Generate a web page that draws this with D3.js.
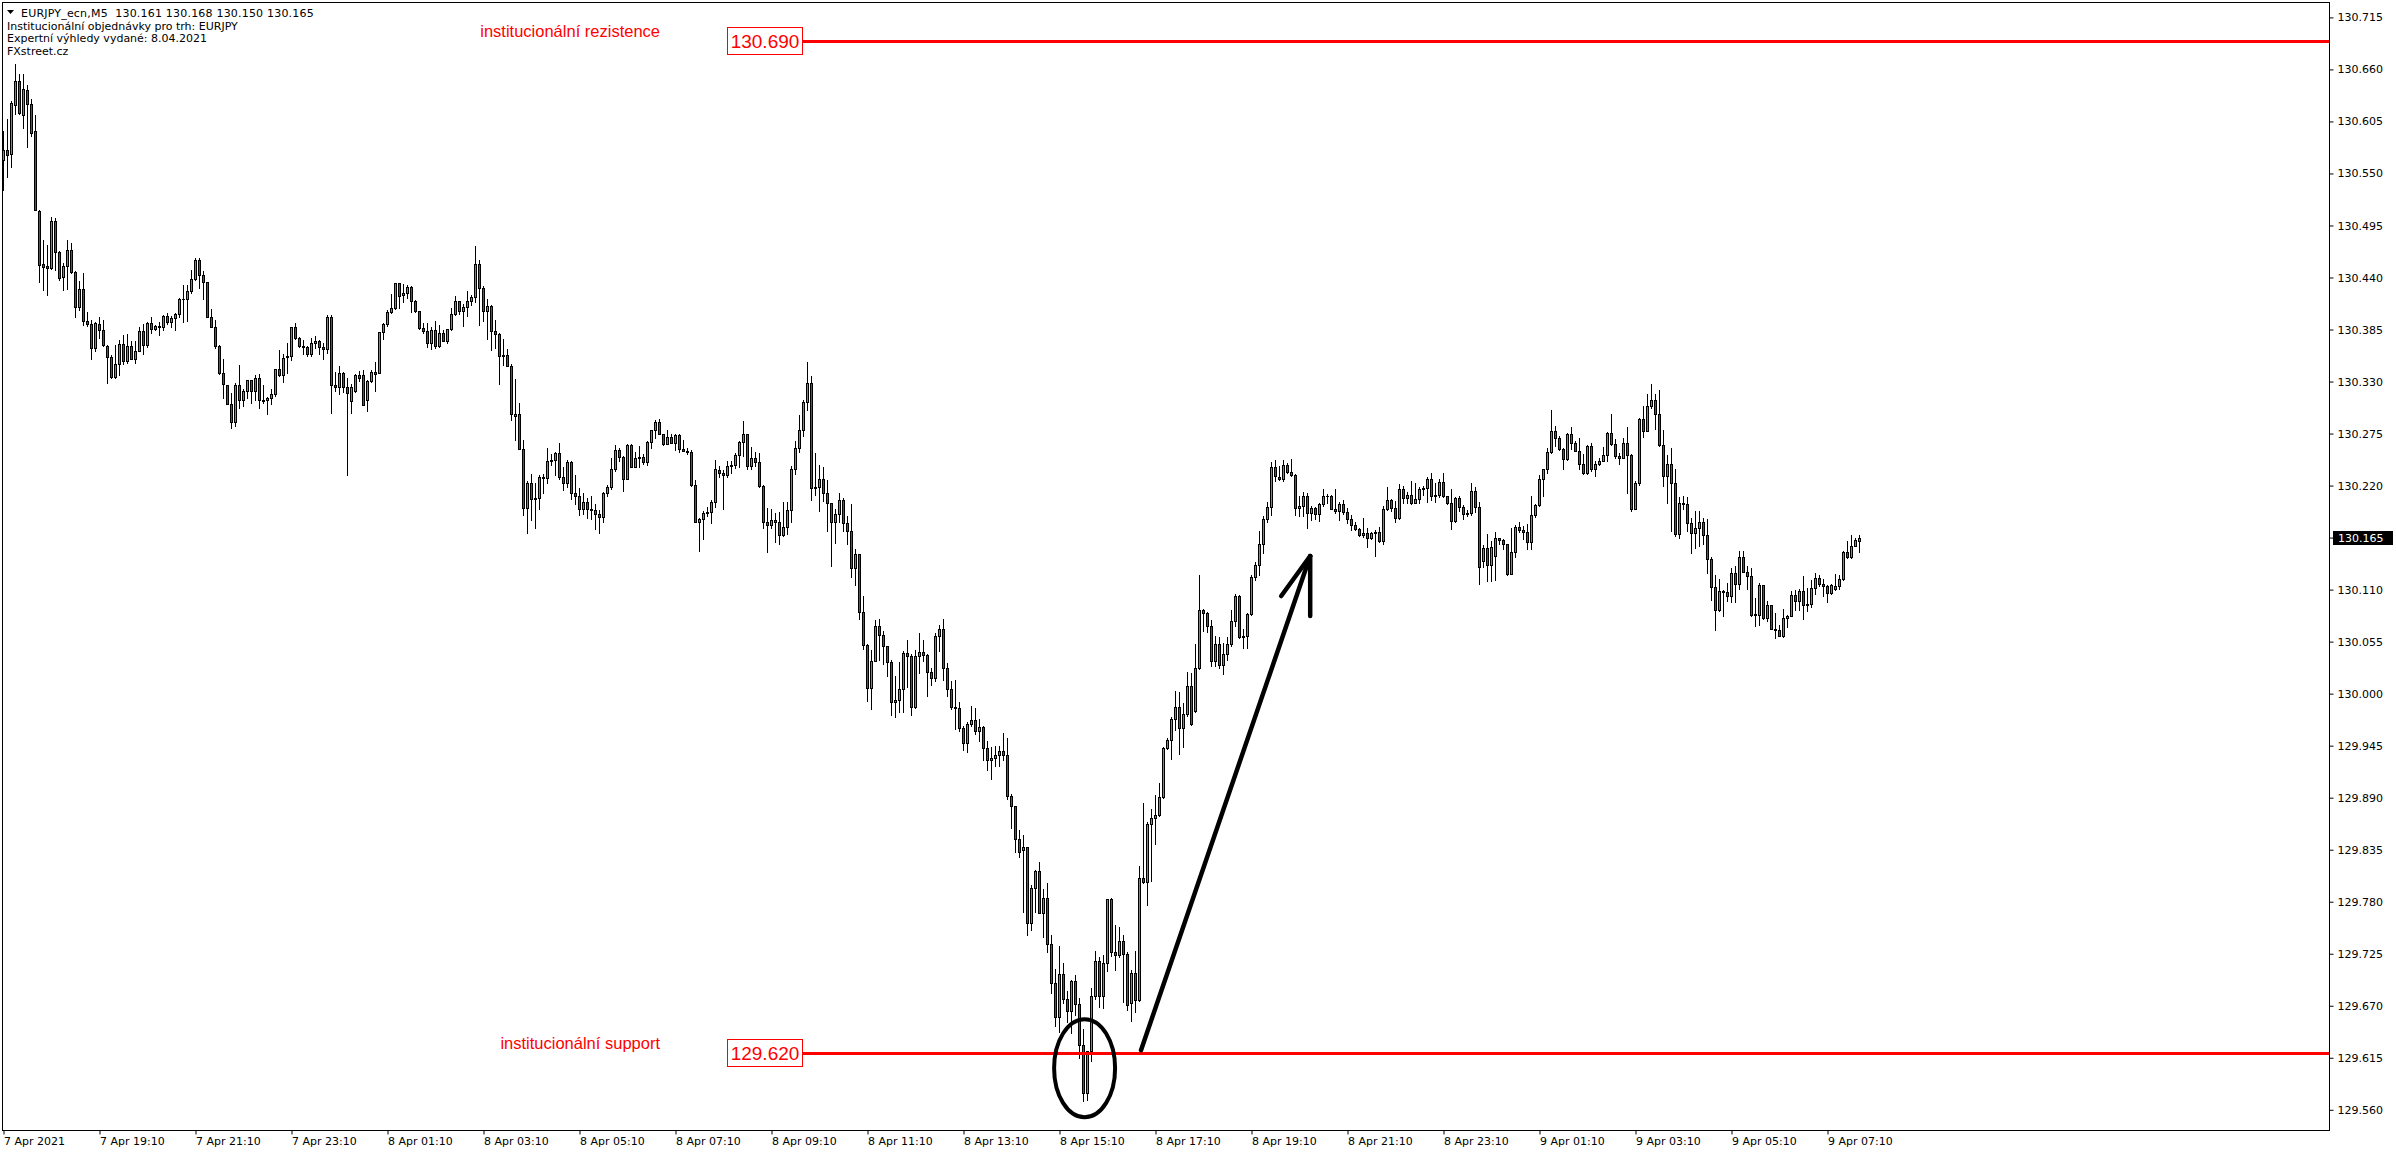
<!DOCTYPE html>
<html><head><meta charset="utf-8">
<script src="https://cdn.jsdelivr.net/npm/d3@7"></script>
<style>html,body{margin:0;padding:0;background:#fff;overflow:hidden}svg{display:block}</style>
</head><body>
<script>
// ---- DATA (EURJPY M5, 7 Apr 17:10 -> 9 Apr 07:45) ----
const opens = [
130.564,130.575,130.571,130.622,130.648,130.612,130.638,130.623,130.595,130.510,
130.454,130.452,130.450,130.500,130.467,130.440,130.452,130.469,130.446,130.409,
130.428,130.394,130.391,130.365,130.391,130.384,130.368,130.356,130.335,130.349,
130.370,130.352,130.368,130.354,130.362,130.383,130.369,130.392,130.386,130.389,
130.388,130.399,130.393,130.397,130.401,130.417,130.417,130.426,130.438,130.459,
130.443,130.435,130.398,130.388,130.368,130.339,130.326,130.306,130.287,130.326,
130.310,130.320,130.332,130.320,130.334,130.310,130.311,130.313,130.317,130.343,
130.337,130.356,130.357,130.388,130.376,130.368,130.367,130.359,130.371,130.373,
130.366,130.364,130.398,130.326,130.324,130.339,130.324,130.309,130.320,130.337,
130.337,130.310,130.331,130.340,130.339,130.382,130.391,130.403,130.408,130.434,
130.421,130.424,130.430,130.415,130.405,130.387,130.383,130.371,130.384,130.368,
130.381,130.373,130.386,130.401,130.415,130.405,130.409,130.415,130.419,130.454,
130.429,130.405,130.410,130.383,130.380,130.357,130.358,130.346,130.294,130.296,
130.259,130.196,130.223,130.206,130.207,130.229,130.228,130.246,130.247,130.254,
130.229,130.223,130.245,130.212,130.209,130.195,130.203,130.195,130.194,130.190,
130.187,130.212,130.219,130.237,130.258,130.250,130.227,130.263,130.240,130.249,
130.250,130.245,130.266,130.279,130.287,130.275,130.264,130.271,130.265,130.273,
130.259,130.257,130.256,130.221,130.181,130.185,130.191,130.192,130.203,130.236,
130.233,130.231,130.241,130.242,130.252,130.266,130.274,130.241,130.249,130.245,
130.220,130.181,130.178,130.184,130.182,130.168,130.176,130.194,130.237,130.260,
130.279,130.308,130.328,130.217,130.218,130.227,130.212,130.202,130.181,130.190,
130.205,130.180,130.172,130.133,130.148,130.086,130.051,130.006,130.035,130.071,
130.062,130.050,130.033,129.991,129.993,130.005,130.043,130.040,129.986,130.040,
130.044,130.041,130.023,130.017,130.061,130.068,130.027,130.005,129.986,129.985,
129.964,129.948,129.968,129.972,129.961,129.965,129.943,129.930,129.932,129.935,
129.939,129.935,129.892,129.881,129.846,129.835,129.838,129.757,129.794,129.812,
129.768,129.784,129.735,129.694,129.658,129.704,129.677,129.664,129.696,129.672,
129.628,129.578,129.622,129.680,129.717,129.680,129.715,129.783,129.727,129.724,
129.738,129.725,129.673,129.705,129.676,129.805,129.801,129.862,129.868,129.872,
129.891,129.943,129.951,129.973,129.986,129.964,129.979,130.008,129.982,130.027,
130.088,130.085,130.072,130.034,130.053,130.030,130.042,130.052,130.077,130.103,
130.060,130.061,130.084,130.123,130.136,130.158,130.185,130.197,130.240,130.229,
130.227,130.242,130.234,130.231,130.196,130.198,130.209,130.191,130.196,130.190,
130.200,130.209,130.209,130.195,130.193,130.201,130.192,130.185,130.178,130.174,
130.168,130.170,130.165,130.170,130.171,130.161,130.195,130.205,130.196,130.186,
130.216,130.207,130.210,130.202,130.206,130.216,130.217,130.227,130.209,130.210,
130.224,130.209,130.202,130.183,130.207,130.197,130.190,130.191,130.214,130.197,
130.140,130.154,130.136,130.146,130.165,130.162,130.158,130.127,130.150,130.176,
130.173,130.171,130.160,130.189,130.199,130.227,130.237,130.256,130.278,130.270,
130.259,130.248,130.274,130.265,130.257,130.243,130.233,130.262,130.237,130.243,
130.246,130.252,130.276,130.264,130.251,130.249,130.265,130.252,130.195,130.223,
130.290,130.278,130.304,130.311,130.296,130.263,130.230,130.243,130.223,130.169,
130.202,130.201,130.180,130.170,130.175,130.181,130.168,130.142,130.113,130.088,
130.109,130.108,130.103,130.128,130.116,130.144,130.129,130.124,130.084,130.083,
130.115,130.080,130.094,130.068,130.067,130.061,130.080,130.082,130.104,130.098,
130.109,130.094,130.095,130.112,130.122,130.116,130.114,130.106,130.111,130.114,
130.121,130.150,130.144,130.156,130.161];
const highs = [
130.595,130.608,130.627,130.666,130.655,130.655,130.644,130.629,130.612,130.511,
130.480,130.474,130.504,130.503,130.468,130.455,130.480,130.476,130.447,130.436,
130.445,130.403,130.395,130.393,130.398,130.395,130.369,130.358,130.369,130.374,
130.379,130.380,130.373,130.373,130.388,130.391,130.393,130.398,130.390,130.393,
130.400,130.402,130.399,130.402,130.418,130.432,130.432,130.448,130.461,130.461,
130.447,130.435,130.407,130.395,130.369,130.354,130.326,130.318,130.328,130.347,
130.322,130.332,130.332,130.337,130.338,130.326,130.314,130.322,130.343,130.363,
130.359,130.371,130.388,130.392,130.377,130.374,130.368,130.376,130.378,130.374,
130.371,130.400,130.400,130.340,130.346,130.340,130.334,130.327,130.338,130.341,
130.342,130.332,130.342,130.351,130.382,130.392,130.406,130.423,130.434,130.434,
130.433,130.432,130.431,130.416,130.405,130.392,130.392,130.388,130.394,130.390,
130.384,130.386,130.408,130.420,130.415,130.412,130.426,130.422,130.473,130.459,
130.431,130.417,130.411,130.395,130.381,130.375,130.364,130.349,130.333,130.307,
130.268,130.225,130.232,130.223,130.231,130.232,130.260,130.253,130.256,130.265,
130.240,130.247,130.246,130.231,130.217,130.212,130.207,130.209,130.200,130.194,
130.213,130.221,130.249,130.263,130.260,130.251,130.264,130.264,130.256,130.262,
130.253,130.267,130.279,130.289,130.290,130.275,130.279,130.274,130.274,130.275,
130.268,130.260,130.258,130.226,130.186,130.193,130.197,130.205,130.247,130.241,
130.236,130.246,130.246,130.254,130.267,130.288,130.275,130.261,130.256,130.254,
130.221,130.196,130.195,130.191,130.192,130.203,130.203,130.241,130.267,130.295,
130.311,130.351,130.336,130.254,130.242,130.240,130.226,130.202,130.195,130.212,
130.207,130.188,130.200,130.153,130.148,130.103,130.052,130.046,130.078,130.079,
130.066,130.050,130.036,130.019,130.033,130.045,130.057,130.042,130.046,130.064,
130.057,130.042,130.027,130.064,130.073,130.079,130.032,130.013,130.014,129.991,
129.966,129.970,129.987,129.985,129.973,129.966,129.950,129.944,129.945,129.945,
129.958,129.953,129.894,129.881,129.856,129.851,129.838,129.798,129.814,129.822,
129.793,129.800,129.745,129.709,129.733,129.715,129.686,129.697,129.702,129.678,
129.645,129.622,129.689,129.728,129.722,129.724,129.783,129.784,129.755,129.753,
129.745,129.727,129.708,129.728,129.818,129.884,129.864,129.878,129.893,129.905,
129.944,129.953,129.975,130.003,130.002,129.990,130.023,130.022,130.053,130.125,
130.090,130.086,130.078,130.061,130.060,130.054,130.060,130.088,130.105,130.104,
130.068,130.085,130.125,130.139,130.172,130.188,130.203,130.245,130.247,130.241,
130.247,130.244,130.248,130.232,130.209,130.213,130.212,130.198,130.197,130.202,
130.216,130.211,130.210,130.216,130.203,130.205,130.196,130.189,130.182,130.175,
130.186,130.175,130.171,130.173,130.176,130.198,130.219,130.206,130.204,130.222,
130.220,130.213,130.225,130.223,130.219,130.220,130.229,130.233,130.223,130.227,
130.233,130.209,130.216,130.208,130.209,130.199,130.194,130.223,130.218,130.203,
130.157,130.169,130.161,130.171,130.165,130.163,130.158,130.175,130.178,130.182,
130.177,130.179,130.209,130.201,130.231,130.238,130.260,130.300,130.283,130.272,
130.260,130.276,130.282,130.267,130.270,130.253,130.263,130.265,130.246,130.249,
130.261,130.277,130.296,130.269,130.254,130.270,130.282,130.253,130.225,130.291,
130.304,130.317,130.327,130.317,130.321,130.279,130.252,130.260,130.237,130.208,
130.209,130.208,130.186,130.193,130.193,130.186,130.185,130.145,130.125,130.121,
130.110,130.117,130.133,130.135,130.151,130.151,130.135,130.133,130.101,130.117,
130.115,130.098,130.094,130.085,130.073,130.090,130.083,130.109,130.110,130.111,
130.124,130.112,130.120,130.128,130.125,130.121,130.115,130.116,130.127,130.125,
130.151,130.161,130.168,130.165,130.168];
const lows = [
130.532,130.546,130.557,130.613,130.613,130.598,130.578,130.590,130.511,130.435,
130.427,130.422,130.449,130.448,130.437,130.427,130.428,130.445,130.398,130.406,
130.390,130.389,130.354,130.362,130.376,130.368,130.328,130.334,130.334,130.337,
130.349,130.350,130.354,130.350,130.362,130.359,130.366,130.381,130.385,130.379,
130.385,130.391,130.388,130.385,130.398,130.393,130.394,130.424,130.437,130.429,
130.417,130.398,130.388,130.365,130.338,130.313,130.306,130.281,130.283,130.302,
130.304,130.313,130.307,130.311,130.302,130.307,130.296,130.306,130.315,130.336,
130.329,130.339,130.353,130.375,130.366,130.359,130.357,130.357,130.365,130.359,
130.354,130.360,130.297,130.320,130.317,130.319,130.231,130.297,130.319,130.331,
130.305,130.299,130.329,130.320,130.339,130.375,130.389,130.402,130.407,130.408,
130.414,130.418,130.404,130.404,130.386,130.381,130.367,130.364,130.365,130.367,
130.373,130.371,130.385,130.400,130.401,130.389,130.399,130.411,130.414,130.390,
130.394,130.375,130.363,130.365,130.327,130.348,130.346,130.289,130.268,130.259,
130.189,130.170,130.184,130.175,130.195,130.212,130.223,130.242,130.231,130.227,
130.215,130.219,130.206,130.200,130.189,130.190,130.186,130.185,130.174,130.170,
130.182,130.209,130.216,130.235,130.246,130.214,130.227,130.240,130.240,130.240,
130.243,130.242,130.260,130.270,130.274,130.263,130.264,130.265,130.258,130.256,
130.257,130.253,130.220,130.181,130.151,130.164,130.188,130.180,130.197,130.229,
130.195,130.229,130.233,130.239,130.240,130.251,130.237,130.237,130.241,130.218,
130.175,130.150,130.175,130.160,130.158,130.167,130.169,130.181,130.232,130.256,
130.272,130.300,130.205,130.210,130.193,130.204,130.172,130.135,130.159,130.181,
130.172,130.158,130.123,130.115,130.079,130.047,129.992,129.984,130.034,130.036,
130.031,130.019,129.977,129.975,129.981,129.981,130.007,129.977,129.985,130.022,
130.034,129.998,130.009,130.013,130.045,130.014,129.998,129.984,129.963,129.960,
129.940,129.938,129.966,129.957,129.950,129.930,129.919,129.910,129.923,129.924,
129.930,129.889,129.858,129.833,129.827,129.769,129.745,129.750,129.769,129.768,
129.743,129.727,129.684,129.649,129.642,129.673,129.653,129.641,129.660,129.615,
129.569,129.570,129.612,129.677,129.669,129.668,129.707,129.723,129.708,129.722,
129.674,129.665,129.654,129.663,129.675,129.800,129.777,129.802,129.841,129.871,
129.890,129.942,129.931,129.962,129.936,129.944,129.976,129.967,129.981,130.026,
130.066,130.065,130.029,130.029,130.027,130.021,130.036,130.050,130.071,130.059,
130.048,130.048,130.083,130.120,130.125,130.149,130.182,130.189,130.225,130.226,
130.225,130.233,130.230,130.189,130.188,130.188,130.175,130.184,130.185,130.183,
130.198,130.202,130.195,130.191,130.184,130.190,130.180,130.173,130.173,130.167,
130.166,130.155,130.164,130.146,130.160,130.158,130.194,130.193,130.182,130.185,
130.202,130.202,130.201,130.202,130.202,130.210,130.203,130.205,130.203,130.208,
130.208,130.201,130.174,130.182,130.193,130.185,130.188,130.189,130.192,130.116,
130.134,130.119,130.119,130.120,130.158,130.153,130.125,130.126,130.145,130.171,
130.164,130.153,130.153,130.187,130.198,130.209,130.233,130.254,130.262,130.258,
130.238,130.247,130.259,130.257,130.238,130.232,130.232,130.235,130.230,130.242,
130.246,130.246,130.263,130.249,130.243,130.249,130.212,130.193,130.195,130.221,
130.271,130.278,130.302,130.280,130.262,130.220,130.202,130.172,130.167,130.165,
130.195,130.172,130.149,130.154,130.156,130.158,130.128,130.099,130.067,130.087,
130.082,130.098,130.097,130.097,130.111,130.129,130.111,130.082,130.071,130.073,
130.079,130.077,130.068,130.059,130.061,130.060,130.070,130.082,130.088,130.088,
130.079,130.087,130.092,130.105,130.114,130.103,130.097,130.105,130.110,130.111,
130.120,130.143,130.143,130.156,130.150];
const closes = [
130.575,130.570,130.624,130.648,130.614,130.639,130.623,130.593,130.511,130.453,
130.451,130.450,130.500,130.467,130.439,130.452,130.469,130.446,130.409,130.428,
130.394,130.391,130.365,130.392,130.384,130.369,130.356,130.335,130.349,130.370,
130.352,130.368,130.354,130.362,130.383,130.369,130.392,130.386,130.389,130.388,
130.399,130.393,130.397,130.401,130.417,130.417,130.426,130.438,130.459,130.443,
130.435,130.398,130.388,130.368,130.339,130.327,130.306,130.287,130.326,130.310,
130.320,130.332,130.320,130.334,130.310,130.309,130.313,130.317,130.343,130.337,
130.355,130.357,130.388,130.376,130.368,130.367,130.359,130.371,130.373,130.366,
130.364,130.398,130.326,130.324,130.339,130.324,130.318,130.324,130.337,130.334,
130.305,130.331,130.340,130.338,130.382,130.391,130.403,130.408,130.434,130.420,
130.424,130.430,130.415,130.405,130.387,130.383,130.371,130.384,130.368,130.381,
130.373,130.386,130.401,130.415,130.405,130.409,130.415,130.419,130.454,130.429,
130.405,130.410,130.383,130.380,130.357,130.358,130.346,130.296,130.296,130.259,
130.196,130.223,130.206,130.207,130.229,130.228,130.246,130.247,130.254,130.229,
130.223,130.245,130.212,130.209,130.195,130.203,130.195,130.194,130.190,130.187,
130.212,130.219,130.237,130.258,130.250,130.227,130.263,130.240,130.249,130.250,
130.245,130.266,130.279,130.287,130.275,130.264,130.271,130.265,130.273,130.259,
130.257,130.256,130.221,130.181,130.185,130.191,130.192,130.203,130.238,130.233,
130.231,130.241,130.242,130.252,130.266,130.274,130.241,130.249,130.245,130.220,
130.181,130.178,130.184,130.182,130.168,130.176,130.194,130.237,130.260,130.279,
130.308,130.328,130.217,130.218,130.227,130.212,130.202,130.181,130.190,130.205,
130.180,130.172,130.133,130.148,130.086,130.051,130.006,130.035,130.071,130.062,
130.050,130.033,129.991,129.993,130.005,130.043,130.040,129.986,130.040,130.044,
130.041,130.023,130.017,130.061,130.068,130.027,130.005,129.986,129.985,129.964,
129.948,129.968,129.972,129.961,129.965,129.943,129.930,129.932,129.935,129.939,
129.935,129.892,129.881,129.846,129.833,129.838,129.757,129.794,129.812,129.768,
129.784,129.735,129.694,129.658,129.704,129.677,129.664,129.696,129.672,129.628,
129.578,129.622,129.680,129.717,129.680,129.715,129.783,129.727,129.724,129.738,
129.725,129.671,129.705,129.676,129.805,129.801,129.862,129.868,129.872,129.891,
129.943,129.951,129.973,129.986,129.964,129.979,130.008,129.968,130.027,130.088,
130.085,130.072,130.034,130.053,130.030,130.042,130.052,130.077,130.103,130.060,
130.061,130.084,130.123,130.136,130.158,130.185,130.197,130.240,130.230,130.227,
130.242,130.234,130.231,130.196,130.198,130.209,130.191,130.196,130.190,130.200,
130.209,130.209,130.195,130.193,130.201,130.192,130.185,130.178,130.174,130.168,
130.170,130.165,130.170,130.171,130.161,130.195,130.205,130.196,130.186,130.216,
130.207,130.210,130.202,130.206,130.216,130.217,130.227,130.209,130.210,130.224,
130.209,130.202,130.183,130.207,130.197,130.190,130.191,130.214,130.197,130.134,
130.154,130.136,130.155,130.165,130.162,130.158,130.127,130.150,130.176,130.173,
130.171,130.160,130.189,130.199,130.227,130.237,130.256,130.278,130.270,130.259,
130.248,130.274,130.265,130.257,130.243,130.233,130.262,130.237,130.243,130.246,
130.252,130.276,130.264,130.251,130.249,130.265,130.252,130.195,130.223,130.290,
130.278,130.304,130.311,130.296,130.263,130.230,130.243,130.223,130.169,130.202,
130.201,130.180,130.170,130.175,130.181,130.168,130.142,130.113,130.088,130.109,
130.108,130.103,130.128,130.116,130.144,130.129,130.124,130.083,130.083,130.115,
130.080,130.094,130.068,130.067,130.061,130.080,130.082,130.104,130.098,130.109,
130.094,130.095,130.112,130.122,130.116,130.114,130.106,130.115,130.114,130.121,
130.150,130.144,130.156,130.162,130.165];

const timeLabels = ["7 Apr 2021","7 Apr 19:10","7 Apr 21:10","7 Apr 23:10","8 Apr 01:10","8 Apr 03:10",
  "8 Apr 05:10","8 Apr 07:10","8 Apr 09:10","8 Apr 11:10","8 Apr 13:10","8 Apr 15:10","8 Apr 17:10",
  "8 Apr 19:10","8 Apr 21:10","8 Apr 23:10","9 Apr 01:10","9 Apr 03:10","9 Apr 05:10","9 Apr 07:10"];
const barsPerLabel = 24;
const priceTicks = ["130.715","130.660","130.605","130.550","130.495","130.440","130.385","130.330",
  "130.275","130.220","130.165","130.110","130.055","130.000","129.945","129.890","129.835","129.780",
  "129.725","129.670","129.615","129.560"];
const headerTitle = "EURJPY_ecn,M5  130.161 130.168 130.150 130.165";
const headerLines = ["Institucionální objednávky pro trh: EURJPY","Expertní výhledy vydané: 8.04.2021","FXstreet.cz"];
const resistanceLevel = 130.690, resistanceText = "institucionální rezistence";
const supportLevel = 129.620, supportText = "institucionální support";
const lastPrice = 130.165;

// ---- LAYOUT ----
const W = 2396, H = 1154;
const frame = {left: 2, top: 2, right: 2329, bottom: 1130};
const GREEN = "#2cc02c", RED = "#f01414";
const AXIS_FONT = "'DejaVu Sans', Verdana, sans-serif";

const svg = d3.select("body").append("svg").attr("width", W).attr("height", H)
  .style("background", "#fff");

const n = closes.length;
const x = d3.scaleLinear().domain([0, n - 1]).range([3, 3 + 4 * (n - 1)]);
const y = d3.scaleLinear().domain([129.560, 130.715]).range([1109.8, 17.4]);

// frame
svg.append("rect").attr("x", frame.left + 0.5).attr("y", frame.top + 0.5)
  .attr("width", frame.right - frame.left).attr("height", frame.bottom - frame.top)
  .attr("fill", "none").attr("stroke", "#000").attr("stroke-width", 1);

// candles
const bars = closes.map((c, i) => ({i, o: opens[i], h: highs[i], l: lows[i], c}));
const cg = svg.append("g").attr("shape-rendering", "crispEdges")
  .selectAll("g").data(bars).join("g");
const px = d => Math.round(x(d.i));
const bTop = d => Math.round(y(Math.max(d.o, d.c)));
const bBot = d => Math.round(y(Math.min(d.o, d.c)));
cg.append("rect")
  .attr("x", px).attr("width", 1)
  .attr("y", d => Math.round(y(d.h)))
  .attr("height", d => Math.max(1, Math.round(y(d.l)) - Math.round(y(d.h)) + 1))
  .attr("fill", "#000");
cg.append("rect")
  .attr("x", d => px(d) - 1).attr("width", 3)
  .attr("y", bTop).attr("height", d => bBot(d) - bTop(d) + 1)
  .attr("fill", "#000");
cg.filter(d => bBot(d) - bTop(d) >= 2 && d.c !== d.o).append("rect")
  .attr("x", px).attr("width", 1)
  .attr("y", d => bTop(d) + 1).attr("height", d => bBot(d) - bTop(d) - 1)
  .attr("fill", d => d.c > d.o ? GREEN : RED);

// right price axis
const yAxis = d3.axisRight(y).tickValues(priceTicks.map(Number))
  .tickFormat((d, k) => priceTicks[k]).tickSize(4).tickPadding(4).tickSizeOuter(0);
svg.append("g").attr("transform", `translate(${frame.right + 0.5},0)`)
  .call(yAxis)
  .call(g => g.select(".domain").remove())
  .call(g => g.selectAll("line").attr("stroke", "#000"))
  .call(g => g.selectAll("text").attr("font-family", AXIS_FONT).attr("font-size", 11).attr("fill", "#000"));

// bottom time axis
const xAxis = d3.axisBottom(x).tickValues(timeLabels.map((_, k) => k * barsPerLabel))
  .tickFormat((d, k) => timeLabels[k]).tickSize(4).tickPadding(3).tickSizeOuter(0);
svg.append("g").attr("transform", `translate(0.5,${frame.bottom + 0.5})`)
  .call(xAxis)
  .call(g => g.select(".domain").remove())
  .call(g => g.selectAll("line").attr("stroke", "#000"))
  .call(g => g.selectAll("text").attr("font-family", AXIS_FONT).attr("font-size", 11)
    .attr("fill", "#000").attr("text-anchor", "start"));

// current price label
const ly = Math.round(y(lastPrice));
svg.append("rect").attr("x", frame.right + 4).attr("y", ly - 7).attr("width", 60).attr("height", 14).attr("fill", "#000");
svg.append("text").attr("x", frame.right + 9).attr("y", ly).attr("dy", "0.35em")
  .attr("font-family", AXIS_FONT).attr("font-size", 11).attr("fill", "#fff").text(d3.format(".3f")(lastPrice));

// header
svg.append("path").attr("d", "M7,10 L14,10 L10.5,14 Z").attr("fill", "#000");
svg.append("text").attr("x", 21).attr("y", 17).style("white-space", "pre")
  .attr("font-family", AXIS_FONT).attr("font-size", 11).attr("letter-spacing", 0.2)
  .attr("fill", "#000").text(headerTitle);
svg.append("g").selectAll("text").data(headerLines).join("text")
  .attr("x", 7).attr("y", (d, k) => 29.5 + k * 12.5)
  .attr("font-family", AXIS_FONT).attr("font-size", 11)
  .attr("fill", "#000").text(d => d);

// institutional levels
const levels = [
  {p: resistanceLevel, text: resistanceText, ty: -4},
  {p: supportLevel, text: supportText, ty: -4}
];
const lg = svg.append("g");
levels.forEach(L => {
  const yy = Math.round(y(L.p));
  lg.append("line").attr("x1", 802).attr("x2", frame.right).attr("y1", yy + 0.5).attr("y2", yy + 0.5)
    .attr("stroke", "#ff0000").attr("stroke-width", 3);
  lg.append("rect").attr("x", 727.5).attr("y", yy - 13.5).attr("width", 75).attr("height", 27)
    .attr("fill", "#fff").attr("stroke", "#ff0000").attr("stroke-width", 1);
  lg.append("text").attr("x", 765).attr("y", yy).attr("dy", "0.36em").attr("text-anchor", "middle")
    .attr("font-family", "'Liberation Sans', Arial, sans-serif").attr("font-size", 19)
    .attr("fill", "#ff0000").text(d3.format(".3f")(L.p));
  lg.append("text").attr("x", 660).attr("y", yy + L.ty).attr("text-anchor", "end")
    .attr("font-family", "'Liberation Sans', Arial, sans-serif").attr("font-size", 16.5)
    .attr("fill", "#ff0000").text(L.text);
});

// annotations: ellipse around the low and arrow
svg.append("ellipse").attr("cx", x(270.4)).attr("cy", y(129.604)).attr("rx", 30.5).attr("ry", 49)
  .attr("fill", "none").attr("stroke", "#000").attr("stroke-width", 4);
const a0 = [x(284.5), y(129.623)], a1 = [x(326.8), y(130.1455)];
const ag = svg.append("g").attr("stroke", "#000").attr("stroke-width", 4.5).attr("fill", "none").attr("stroke-linecap", "round");
ag.append("line").attr("x1", a0[0]).attr("y1", a0[1]).attr("x2", a1[0]).attr("y2", a1[1]);
ag.append("line").attr("x1", a1[0]).attr("y1", a1[1]).attr("x2", a1[0] - 29).attr("y2", a1[1] + 40);
ag.append("line").attr("x1", a1[0]).attr("y1", a1[1]).attr("x2", a1[0]).attr("y2", a1[1] + 60);
</script>
</body></html>
